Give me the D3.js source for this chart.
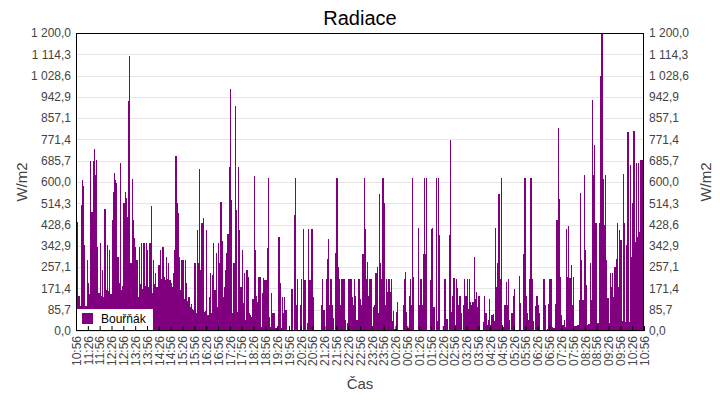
<!DOCTYPE html>
<html lang="cs">
<head>
  <meta charset="UTF-8">
  <title>Radiace</title>
  <style>
    body { margin: 0; background: #fff; }
    svg { display: block; font-family: "Liberation Sans", Arial, sans-serif; }
    .tick-label { font-size: 12px; fill: #444; }
  </style>
</head>
<body>
  <svg width="720" height="400"></svg>

  <script src="https://d3js.org/d3.v7.min.js"></script>
  <script>
    const seriesName = "Bouřňák";

    // hodnoty W/m2 po 3 minutách od 10:56, jeden řádek = 30 minut
    const radiace = [
      300, 440, 140, 100, 507, 608, 582, 346, 100, 286,   // 10:56
      192, 150, 684, 480, 684, 733, 628, 688, 340, 152,   // 11:26
      353, 140, 246, 138, 491, 165, 346, 160, 326, 150,   // 11:56
      447, 561, 635, 608, 595, 300, 192, 675, 165, 180,   // 12:26
      514, 561, 534, 460, 926, 1107, 272, 612, 447, 373,  // 12:56
      340, 286, 138, 340, 190, 353, 170, 353, 180, 353,   // 13:26
      326, 178, 353, 505, 152, 286, 190, 232, 178, 266,   // 13:56
      266, 326, 210, 340, 219, 205, 300, 210, 272, 205,   // 14:26
      192, 178, 232, 326, 705, 514, 474, 300, 165, 286,   // 14:56
      286, 130, 286, 192, 120, 138, 98, 110, 90, 85,      // 15:26
      272, 71, 407, 272, 652, 246, 434, 454, 75, 80,      // 15:56
      407, 65, 138, 232, 71, 226, 353, 165, 313, 98,      // 16:26
      353, 272, 521, 364, 138, 178, 246, 313, 390, 662,   // 16:56
      974, 528, 71, 272, 906, 487, 78, 662, 407, 178,     // 17:26
      326, 112, 232, 44, 246, 219, 71, 65, 58, 128,       // 17:56
      626, 326, 142, 118, 219, 219, 18, 152, 212, 205,    // 18:26
      205, 333, 615, 58, 18, 152, 71, 71, 11, 11,         // 18:56
      11, 380, 192, 11, 138, 71, 138, 85, 4, 4,           // 19:26
      4, 4, 168, 4, 467, 618, 105, 210, 4, 105,           // 19:56
      210, 4, 411, 205, 4, 31, 411, 205, 205, 411,        // 20:26
      138, 4, 4, 4, 4, 4, 4, 105, 210, 85,                // 20:56
      4, 210, 290, 371, 105, 210, 105, 51, 4, 313,        // 21:26
      618, 257, 210, 105, 210, 210, 210, 44, 4, 31,       // 21:56
      210, 210, 210, 138, 105, 210, 141, 44, 210, 210,    // 22:26
      128, 105, 310, 616, 411, 210, 277, 141, 210, 210,   // 22:56
      4, 95, 105, 232, 257, 71, 550, 272, 210, 616,       // 23:26
      516, 105, 210, 157, 210, 157, 210, 41, 81, 10,      // 23:56
      78, 117, 4, 4, 4, 4, 105, 210, 238, 76,             // 00:26
      14, 141, 210, 105, 616, 218, 4, 4, 4, 414,          // 00:56
      105, 210, 105, 310, 616, 310, 616, 4, 4, 205,       // 01:26
      410, 414, 98, 4, 616, 41, 616, 387, 4, 4,           // 01:56
      4, 210, 210, 47, 4, 387, 769, 76, 141, 212,         // 02:26
      24, 210, 172, 105, 141, 71, 4, 105, 210, 141,       // 02:56
      210, 87, 208, 118, 105, 117, 297, 128, 157, 98,     // 03:26
      141, 4, 4, 4, 35, 141, 71, 24, 44, 128,             // 03:56
      24, 65, 68, 41, 414, 178, 272, 550, 210, 618,       // 04:26
      24, 15, 105, 196, 105, 210, 44, 4, 71, 141,         // 04:56
      169, 4, 4, 4, 222, 114, 4, 4, 310, 616,             // 05:26
      142, 71, 44, 210, 616, 210, 41, 4, 101, 141,        // 05:56
      105, 71, 4, 4, 4, 210, 105, 4, 7, 109,              // 06:26
      210, 210, 16, 12, 14, 109, 447, 816, 530, 216,      // 06:56
      65, 24, 44, 18, 410, 219, 423, 212, 265, 106,       // 07:26
      219, 20, 22, 24, 24, 125, 555, 286, 125, 628,       // 07:56
      326, 185, 26, 28, 272, 125, 930, 628, 749, 436,     // 08:26
      31, 31, 434, 1027, 1198, 612, 427, 628, 286, 132,   // 08:56
      34, 232, 179, 232, 138, 259, 289, 434, 179, 407,    // 09:26
      367, 40, 632, 434, 35, 346, 800, 35, 669, 300,      // 09:56
      514, 805, 360, 675, 380, 678, 400, 689, 689, 689,   // 10:26
      689                                                 // 10:56
    ];

    const xTickLabels = [
      "10:56", "11:26", "11:56", "12:26", "12:56", "13:26", "13:56", "14:26",
      "14:56", "15:26", "15:56", "16:26", "16:56", "17:26", "17:56", "18:26",
      "18:56", "19:26", "19:56", "20:26", "20:56", "21:26", "21:56", "22:26",
      "22:56", "23:26", "23:56", "00:26", "00:56", "01:26", "01:56", "02:26",
      "02:56", "03:26", "03:56", "04:26", "04:56", "05:26", "05:56", "06:26",
      "06:56", "07:26", "07:56", "08:26", "08:56", "09:26", "09:56", "10:26",
      "10:56"
    ];

    const yTickLabels = [
      "0,0", "85,7", "171,4", "257,1", "342,9", "428,6", "514,3", "600,0",
      "685,7", "771,4", "857,1", "942,9", "1 028,6", "1 114,3", "1 200,0"
    ];

    const yMax = 1200;
    const stepMin = 3;
    const start = new Date(2021, 5, 14, 10, 56);
    const end = d3.timeMinute.offset(start, 24 * 60);

    const data = radiace.map((v, i) => ({ t: d3.timeMinute.offset(start, i * stepMin), v }));
    const xTicks = xTickLabels.map((s, i) => d3.timeMinute.offset(start, i * 30));
    const yTicks = yTickLabels.map((s, i) => i * yMax / (yTickLabels.length - 1));

    const width = 720, height = 400;
    const margin = { top: 33, right: 76, bottom: 69, left: 76 };
    const purple = "#800080";

    const svg = d3.select("svg");

    const x = d3.scaleTime()
      .domain([start, end])
      .range([margin.left, width - margin.right]);

    const y = d3.scaleLinear()
      .domain([0, yMax])
      .range([height - margin.bottom, margin.top]);

    // mřížka
    svg.append("g")
      .selectAll("line")
      .data(yTicks)
      .join("line")
      .attr("x1", margin.left)
      .attr("x2", width - margin.right)
      .attr("y1", d => Math.round(y(d)) + 0.5)
      .attr("y2", d => Math.round(y(d)) + 0.5)
      .attr("stroke", "#e6e6e6");

    svg.append("clipPath")
      .attr("id", "plot")
      .append("rect")
      .attr("x", margin.left)
      .attr("y", margin.top)
      .attr("width", width - margin.left - margin.right)
      .attr("height", height - margin.top - margin.bottom);

    const area = d3.area()
      .curve(d3.curveStepAfter)
      .x(d => x(d.t))
      .y0(y(0))
      .y1(d => y(d.v));

    svg.append("g")
      .attr("clip-path", "url(#plot)")
      .append("path")
      .datum(data)
      .attr("fill", purple)
      .attr("shape-rendering", "crispEdges")
      .attr("d", area);

    // legenda
    const leg = svg.append("g");
    leg.append("rect")
      .attr("x", margin.left + 1)
      .attr("y", 309)
      .attr("width", 76)
      .attr("height", height - margin.bottom - 310)
      .attr("fill", "#fff");
    leg.append("rect")
      .attr("x", 82)
      .attr("y", 313)
      .attr("width", 11)
      .attr("height", 11)
      .attr("fill", purple);
    leg.append("text")
      .attr("x", 101)
      .attr("y", 323)
      .attr("font-size", 12)
      .attr("fill", "#000")
      .text(seriesName);

    // rámeček
    svg.append("rect")
      .attr("x", margin.left + 0.5)
      .attr("y", margin.top + 0.5)
      .attr("width", width - margin.left - margin.right - 1)
      .attr("height", height - margin.top - margin.bottom - 1)
      .attr("fill", "none")
      .attr("stroke", "#000");

    // osa x
    const xAxis = svg.append("g")
      .attr("transform", `translate(0,${height - margin.bottom})`)
      .call(d3.axisBottom(x)
        .tickValues(xTicks)
        .tickSizeInner(-5)
        .tickSizeOuter(0)
        .tickFormat((d, i) => xTickLabels[i]));
    xAxis.select(".domain").remove();
    xAxis.selectAll(".tick line").attr("stroke", "#000");
    xAxis.selectAll(".tick text")
      .attr("class", "tick-label")
      .attr("font-family", null)
      .attr("font-size", null)
      .attr("transform", "rotate(-90)")
      .attr("text-anchor", "end")
      .attr("x", -5)
      .attr("y", 0)
      .attr("dy", "0.35em");

    // osy y vlevo a vpravo
    const yFmt = (d, i) => yTickLabels[i];
    const yLeft = svg.append("g")
      .attr("transform", `translate(${margin.left},0)`)
      .call(d3.axisLeft(y).tickValues(yTicks).tickSize(0).tickPadding(5).tickFormat(yFmt));
    const yRight = svg.append("g")
      .attr("transform", `translate(${width - margin.right},0)`)
      .call(d3.axisRight(y).tickValues(yTicks).tickSize(0).tickPadding(5).tickFormat(yFmt));
    [yLeft, yRight].forEach(a => {
      a.select(".domain").remove();
      a.selectAll(".tick text")
        .attr("class", "tick-label")
        .attr("font-family", null)
        .attr("font-size", null);
    });

    // popisky
    svg.append("text")
      .attr("x", width / 2)
      .attr("y", 25)
      .attr("text-anchor", "middle")
      .attr("font-size", 20)
      .attr("fill", "#000")
      .text("Radiace");

    svg.append("text")
      .attr("x", width / 2)
      .attr("y", 389)
      .attr("text-anchor", "middle")
      .attr("font-size", 15)
      .attr("fill", "#444")
      .text("Čas");

    [22, 706].forEach(cx => {
      svg.append("text")
        .attr("transform", `translate(${cx},${(margin.top + height - margin.bottom) / 2}) rotate(-90)`)
        .attr("text-anchor", "middle")
        .attr("dy", "0.35em")
        .attr("font-size", 15)
        .attr("fill", "#444")
        .text("W/m2");
    });
  </script>
</body>
</html>
